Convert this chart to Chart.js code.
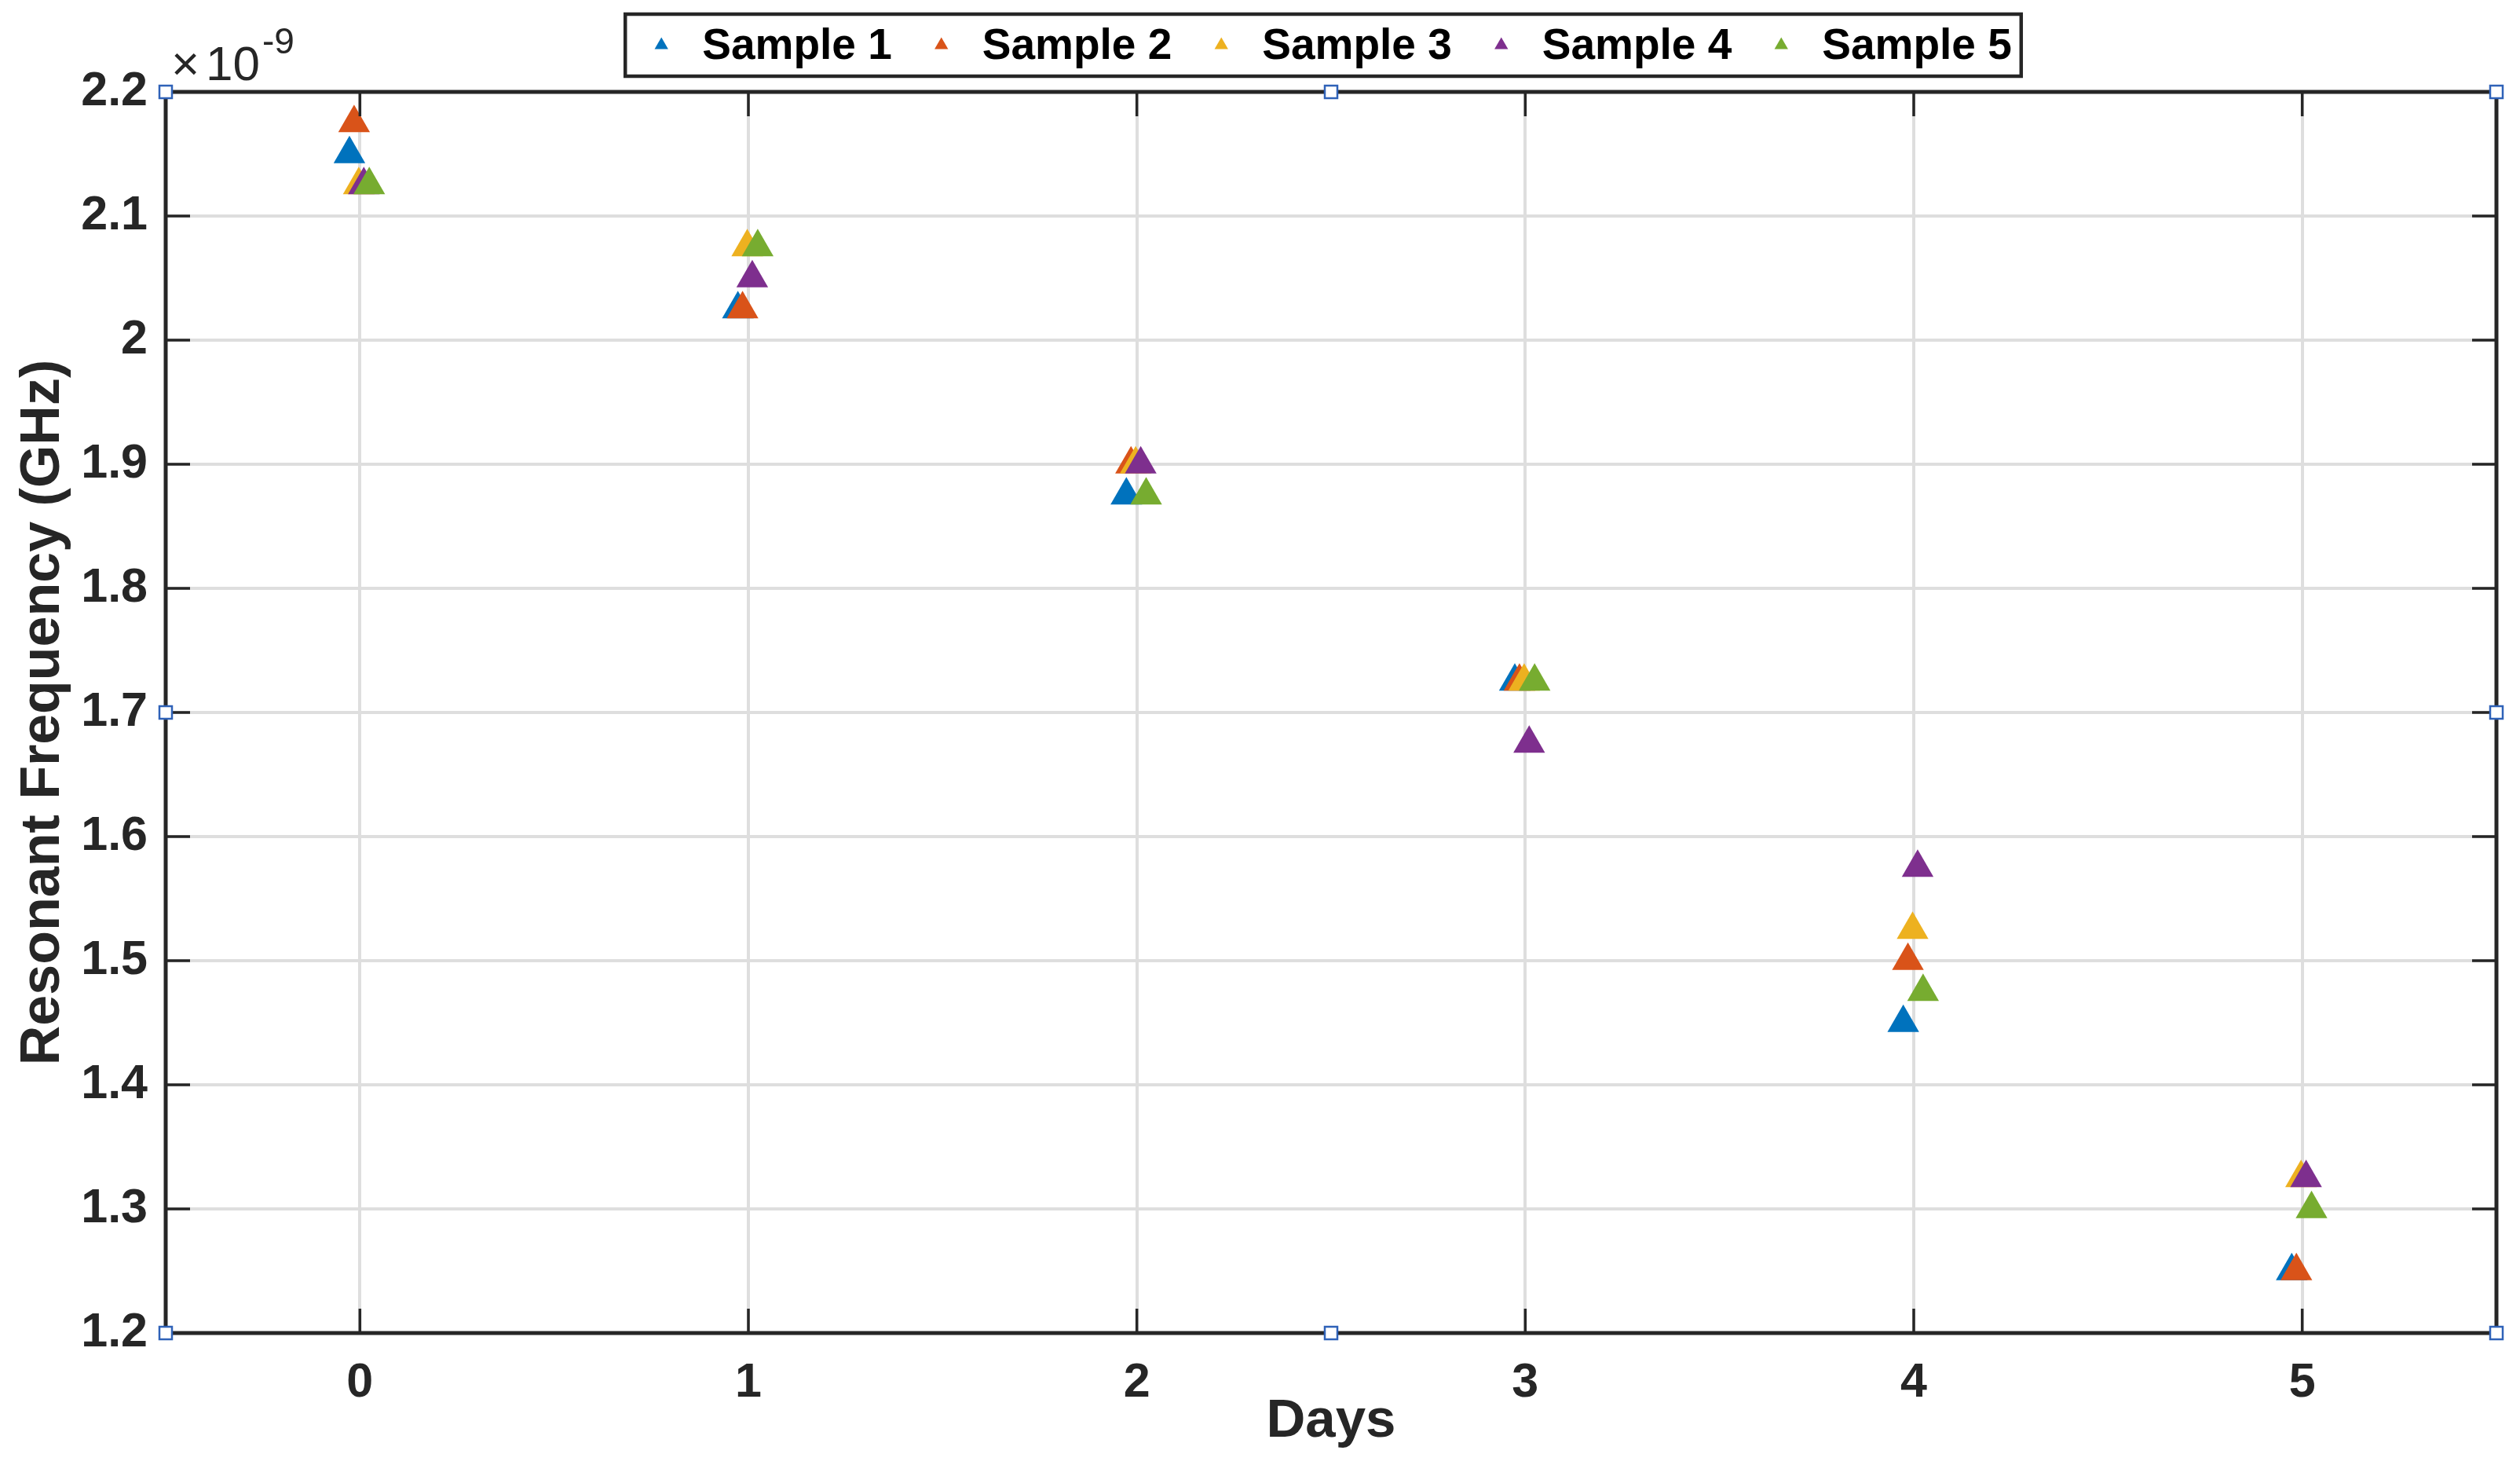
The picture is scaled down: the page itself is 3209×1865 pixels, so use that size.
<!DOCTYPE html>
<html>
<head>
<meta charset="utf-8">
<script src="https://cdn.jsdelivr.net/npm/chart.js@4/dist/chart.umd.min.js"></script>
<style>
  html, body { margin: 0; padding: 0; background: #fff; }
  #caixa { width: 3209px; height: 1865px; }
</style>
</head>
<body>
<div id="caixa"><canvas id="GraficoFrequencia"></canvas></div>
<script>
// values, y in units of 1e-9
const dayTicks = [0, 1, 2, 3, 4, 5];
const freqTicks = [1.2, 1.3, 1.4, 1.5, 1.6, 1.7, 1.8, 1.9, 2.0, 2.1, 2.2];
const sampleNames = ['Sample 1', 'Sample 2', 'Sample 3', 'Sample 4', 'Sample 5'];
const sampleColors = ['#0072BD', '#D95319', '#EDB120', '#7E2F8E', '#77AC30'];

const sample1Days = [-0.027, 0.973, 1.973, 2.973, 3.973, 4.973];
const sample2Days = [-0.015, 0.985, 1.985, 2.985, 3.985, 4.985];
const sample3Days = [-0.003, 0.997, 1.997, 2.997, 3.997, 4.997];
const sample4Days = [0.010, 1.010, 2.010, 3.010, 4.010, 5.010];
const sample5Days = [0.024, 1.024, 2.024, 3.024, 4.024, 5.024];

const sample1 = [2.150, 2.025, 1.875, 1.725, 1.450, 1.250];
const sample2 = [2.175, 2.025, 1.900, 1.725, 1.500, 1.250];
const sample3 = [2.125, 2.075, 1.900, 1.725, 1.525, 1.325];
const sample4 = [2.125, 2.050, 1.900, 1.675, 1.575, 1.325];
const sample5 = [2.125, 2.075, 1.875, 1.725, 1.475, 1.300];

const allDays = [sample1Days, sample2Days, sample3Days, sample4Days, sample5Days];
const allValues = [sample1, sample2, sample3, sample4, sample5];

const fonte = '"Liberation Sans", Arial, Helvetica, sans-serif';
const escuro = '#262626';

function juntaPontos(xs, ys) {
  return xs.map((d, i) => ({ x: d, y: ys[i] }));
}

const marcoEjes = {
  id: 'marcoEjes',
  afterDatasetsDraw(chart) {
    const { ctx, chartArea: a, scales: { x, y } } = chart;
    ctx.save();
    ctx.strokeStyle = escuro;
    ctx.lineWidth = 3.5;
    ctx.beginPath();
    dayTicks.forEach(d => {
      const px = x.getPixelForValue(d);
      ctx.moveTo(px, a.bottom); ctx.lineTo(px, a.bottom - 31);
      ctx.moveTo(px, a.top); ctx.lineTo(px, a.top + 31);
    });
    freqTicks.forEach(v => {
      const py = y.getPixelForValue(v);
      ctx.moveTo(a.left, py); ctx.lineTo(a.left + 31, py);
      ctx.moveTo(a.right, py); ctx.lineTo(a.right - 31, py);
    });
    ctx.stroke();
    ctx.lineWidth = 5;
    ctx.strokeRect(a.left, a.top, a.right - a.left, a.bottom - a.top);

    // little blue handles on the axes box
    const mx = (a.left + a.right) / 2, my = (a.top + a.bottom) / 2;
    const pontos = [[a.left, a.top], [mx, a.top], [a.right, a.top], [a.left, my],
                    [a.right, my], [a.left, a.bottom], [mx, a.bottom], [a.right, a.bottom]];
    ctx.lineWidth = 2.5;
    ctx.strokeStyle = '#2f62b8';
    ctx.fillStyle = '#fff';
    pontos.forEach(p => {
      ctx.fillRect(p[0] - 8, p[1] - 8, 16, 16);
      ctx.strokeRect(p[0] - 8, p[1] - 8, 16, 16);
    });
    ctx.restore();
  },
  afterDraw(chart) {
    const { ctx, chartArea: a } = chart;
    ctx.save();
    ctx.fillStyle = escuro;
    ctx.textBaseline = 'alphabetic';
    ctx.textAlign = 'left';
    ctx.font = '62px ' + fonte;
    ctx.fillText('\u00d7', a.left + 7, a.top - 15);
    ctx.fillText('10', a.left + 51, a.top - 15);
    const w10 = ctx.measureText('10').width;
    ctx.font = '46px ' + fonte;
    ctx.fillText('-9', a.left + 51 + w10 + 3, a.top - 49);

    // legend with a box, like the original
    ctx.font = 'bold 55px ' + fonte;
    const larguras = chart.data.datasets.map(ds => ctx.measureText(ds.label).width);
    const total = 46 + 52 * larguras.length + larguras.reduce((s, w) => s + w, 0) + 63 * (larguras.length - 1) + 12;
    const centro = (a.left + a.right) / 2 - 10;
    const esq = centro - total / 2;
    const topo = 18, alto = 79;
    ctx.fillStyle = '#fff';
    ctx.fillRect(esq, topo, total, alto);
    ctx.strokeStyle = escuro;
    ctx.lineWidth = 4.5;
    ctx.strokeRect(esq, topo, total, alto);
    let cx = esq + 46;
    const cy = topo + alto / 2;
    chart.data.datasets.forEach((ds, i) => {
      const r = 10;
      ctx.fillStyle = ds.backgroundColor;
      ctx.beginPath();
      ctx.moveTo(cx, cy - r);
      ctx.lineTo(cx + r * Math.sin(2 * Math.PI / 3), cy + r / 2);
      ctx.lineTo(cx - r * Math.sin(2 * Math.PI / 3), cy + r / 2);
      ctx.closePath();
      ctx.fill();
      ctx.fillStyle = '#000';
      ctx.textBaseline = 'middle';
      ctx.fillText(ds.label, cx + 52, cy + 2);
      cx += 52 + larguras[i] + 63;
    });
    ctx.restore();
  }
};

const grafico = document.getElementById('GraficoFrequencia');

const graficoFrequencia = new Chart(grafico, {
  type: 'scatter',
  data: {
    datasets: sampleNames.map((nome, i) => ({
      label: nome,
      data: juntaPontos(allDays[i], allValues[i]),
      backgroundColor: sampleColors[i],
      borderColor: sampleColors[i],
      borderWidth: 0,
      pointStyle: 'triangle',
      pointRadius: 23.3,
      pointHoverRadius: 23.3,
      order: sampleNames.length - i
    }))
  },
  options: {
    responsive: true,
    maintainAspectRatio: false,
    devicePixelRatio: 1,
    animation: false,
    layout: { padding: { top: 117, right: 30, bottom: 0, left: 0 } },
    plugins: {
      legend: { display: false },
      tooltip: { enabled: false }
    },
    scales: {
      x: {
        type: 'linear',
        min: -0.5,
        max: 5.5,
        afterBuildTicks: s => { s.ticks = dayTicks.map(v => ({ value: v })); },
        afterFit: s => { s.height = 168; },
        grid: { color: '#dedede', lineWidth: 4, drawTicks: false },
        border: { display: false },
        ticks: {
          padding: 34,
          color: escuro,
          font: { family: fonte, size: 61, weight: 'bold', lineHeight: 1 },
          callback: v => String(v)
        },
        title: {
          display: true,
          text: 'Days',
          color: escuro,
          padding: { top: 0, bottom: 21 },
          font: { family: fonte, size: 69, weight: 'bold', lineHeight: 1 }
        }
      },
      y: {
        min: 1.2,
        max: 2.2,
        afterBuildTicks: s => { s.ticks = freqTicks.map(v => ({ value: v })); },
        afterFit: s => { s.width = 211; },
        grid: { color: '#dedede', lineWidth: 4, drawTicks: false },
        border: { display: false },
        ticks: {
          padding: 23,
          color: escuro,
          font: { family: fonte, size: 61, weight: 'bold', lineHeight: 1 },
          callback: v => String(Math.round(v * 10) / 10)
        },
        title: {
          display: true,
          text: 'Resonant Frequency (GHz)',
          color: escuro,
          padding: { top: 21, bottom: 0 },
          font: { family: fonte, size: 70, weight: 'bold', lineHeight: 1 }
        }
      }
    }
  },
  plugins: [marcoEjes]
});
</script>
</body>
</html>
